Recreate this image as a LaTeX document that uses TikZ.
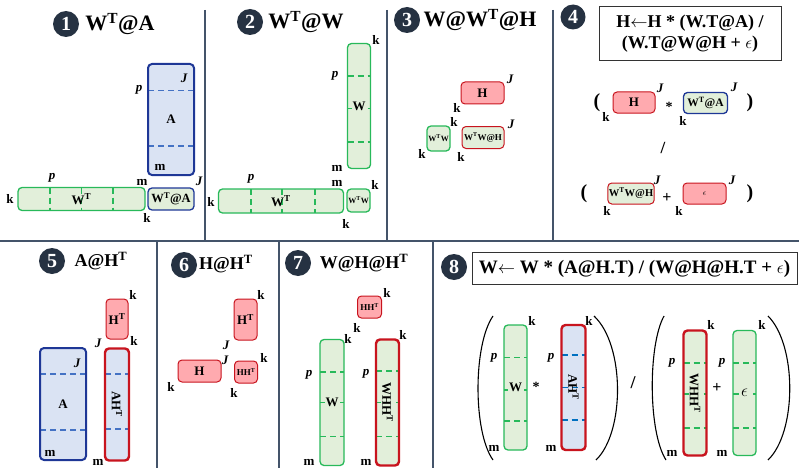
\documentclass[tikz,border=0pt]{standalone}
\usepackage{fontspec}
\setmainfont{Liberation Serif}
\usetikzlibrary{positioning, calc}
\definecolor{gfill}{RGB}{226, 239, 218}
\definecolor{gline}{RGB}{40, 185, 90}
\definecolor{bfill}{RGB}{218, 227, 243}
\definecolor{bline}{RGB}{30, 55, 150}
\definecolor{bdash}{RGB}{68, 114, 196}
\definecolor{adash}{RGB}{0, 112, 192}
\definecolor{rfill}{RGB}{255, 170, 175}
\definecolor{rline}{RGB}{200, 20, 30}
\definecolor{numc}{RGB}{38, 50, 66}
\definecolor{divc}{RGB}{68, 84, 106}
\setlength{\fboxsep}{1pt}

\begin{document}
\begin{tikzpicture}[
        x=1pt, y=-1pt,
        mat/.style={rectangle, rounded corners=4pt, inner sep=1pt, font=\fontsize{12}{12}\selectfont\bfseries},
        gmat/.style={mat, fill=gfill, draw=gline, line width=1.3pt},
        bmat/.style={mat, fill=bfill, draw=bline, line width=2pt},
        rmat/.style={mat, fill=rfill, draw=rline, line width=1pt},
        rgmat/.style={mat, fill=gfill, draw=rline, line width=2.4pt},
        rbmat/.style={mat, fill=bfill, draw=rline, line width=2.4pt},
        dashln/.style={line width=1.6pt, dash pattern=on 6pt off 4pt},
        hdash/.style 2 args={path picture={\foreach \f in {#2} \draw[#1, dashln] ($(path picture bounding box.north west)!\f!(path picture bounding box.south west)$) -- ($(path picture bounding box.north east)!\f!(path picture bounding box.south east)$);}},
        vdash/.style 2 args={path picture={\foreach \f in {#2} \draw[#1, dashln] ($(path picture bounding box.north west)!\f!(path picture bounding box.north east)$) -- ($(path picture bounding box.south west)!\f!(path picture bounding box.south east)$);}},
        dim/.style={inner sep=0pt, font=\fontsize{13}{13}\selectfont\bfseries},
        dimi/.style={inner sep=0pt, font=\fontsize{13}{13}\selectfont\bfseries\itshape},
        num/.style={circle, fill=numc, text=white, minimum size=26pt, inner sep=0pt, font=\fontsize{20}{20}\selectfont\bfseries},
        title/.style={inner sep=0pt, font=\fontsize{22}{22}\selectfont\bfseries},
        formula/.style={draw=black!80, line width=0.8pt, align=center, font=\fontsize{18}{21}\selectfont\bfseries},
        op/.style={inner sep=0pt, font=\fontsize{20}{20}\selectfont\bfseries},
        divider/.style={divc, line width=1.6pt},
        paren/.style={line width=1.1pt}
    ]
    \useasboundingbox (0,0) rectangle (799,468);

    % Dividers
    \draw[divider] (205,10) -- (205,241);
    \draw[divider] (387,10) -- (387,241);
    \draw[divider] (553,10) -- (553,241);
    \draw[divider] (0,241) -- (799,241);
    \draw[divider] (157,241) -- (157,468);
    \draw[divider] (279,241) -- (279,468);
    \draw[divider] (433,241) -- (433,468);

    % 1: W^T@A
    \node[num] (n1) at (66,24) {1};
    \node[title] (t1) at (120,24) {W\textsuperscript{T}@A};
    \node[bmat, minimum width=46pt, minimum height=111pt, hdash={bdash}{0.24,0.74}, font=\fontsize{13}{13}\selectfont\bfseries] (A1) at (171,119.5) {A};
    \node[dimi] (A1J) at (184,78) {J};
    \node[dimi] (A1p) at (139,90) {p};
    \node[dim] (A1m) at (160,167) {m};
    \node[gmat, minimum width=127pt, minimum height=23pt, vdash={gline}{0.25,0.5,0.75}, font=\fontsize{13}{13}\selectfont\bfseries] (WT1) at (81.5,199) {W\textsuperscript{T}};
    \node[dimi] (WT1p) at (52,178) {p};
    \node[dim] (WT1m) at (142,182) {m};
    \node[dim] (WT1k) at (10,199) {k};
    \node[gmat, draw=bline, minimum width=46pt, minimum height=22pt, font=\fontsize{12.5}{12.5}\selectfont\bfseries] (WA1) at (171,199) {W\textsuperscript{T}@A};
    \node[dimi] (WA1J) at (199,181) {J};
    \node[dim] (WA1k) at (147,218) {k};

    % 2: W^T@W
    \node[num] (n2) at (250,22) {2};
    \node[title] (t2) at (306,22) {W\textsuperscript{T}@W};
    \node[gmat, minimum width=23pt, minimum height=125pt, hdash={gline}{0.26,0.52,0.79}, font=\fontsize{13}{13}\selectfont\bfseries] (W2) at (359,106) {\colorbox{gfill}{W}};
    \node[dim] (W2k) at (376,40) {k};
    \node[dimi] (W2p) at (335,76) {p};
    \node[dim] (W2m) at (337,168) {m};
    \node[gmat, minimum width=125pt, minimum height=24pt, vdash={gline}{0.26,0.51,0.77}, font=\fontsize{13}{13}\selectfont\bfseries] (WT2) at (281,201) {W\textsuperscript{T}};
    \node[dimi] (WT2p) at (251,179) {p};
    \node[dim] (WT2m) at (337,183) {m};
    \node[dim] (WT2k) at (211,202) {k};
    \node[gmat, minimum width=23pt, minimum height=23pt, font=\fontsize{8}{8}\selectfont\bfseries] (WW2) at (358.5,200.5) {W\textsuperscript{T}W};
    \node[dim] (WW2k) at (375,185) {k};
    \node[dim] (WW2kb) at (346,224) {k};

    % 3: W@W^T@H
    \node[num] (n3) at (407,20) {3};
    \node[title] (t3) at (480,20) {W@W\textsuperscript{T}@H};
    \node[rmat, minimum width=43pt, minimum height=22pt, font=\fontsize{13}{13}\selectfont\bfseries] (H3) at (482.5,93) {H};
    \node[dimi] (H3J) at (510,79) {J};
    \node[dim] (H3k) at (457,108) {k};
    \node[gmat, minimum width=23pt, minimum height=25pt, font=\fontsize{8}{8}\selectfont\bfseries] (WW3) at (438.5,138.5) {W\textsuperscript{T}W};
    \node[dim] (WW3k) at (422,154) {k};
    \node[gmat, draw=rline, line width=1pt, minimum width=42pt, minimum height=22pt, font=\fontsize{9}{9}\selectfont\bfseries] (WWH3) at (483,137.5) {W\textsuperscript{T}W@H};
    \node[dim] (WWH3k) at (454,122) {k};
    \node[dimi] (WWH3J) at (511,124) {J};
    \node[dim] (WWH3kb) at (461,157) {k};

    % 4: update of H
    \node[num, minimum size=25pt] (n4) at (573,17) {4};
    \node[formula, minimum width=182pt, minimum height=54pt] (f4) at (690,33.5) {H$\leftarrow$H * (W.T@A) /\\(W.T@W@H + $\epsilon$)};
    \node[op] (lp4a) at (597,103) {(};
    \node[rmat, minimum width=42pt, minimum height=21pt, font=\fontsize{13}{13}\selectfont\bfseries] (H4) at (634,102.5) {H};
    \node[dimi] (H4J) at (660,88) {J};
    \node[dim] (H4k) at (606,117) {k};
    \node[op, font=\fontsize{14}{14}\selectfont\bfseries] (st4) at (669,107) {*};
    \node[gmat, draw=bline, minimum width=44pt, minimum height=21pt, font=\fontsize{11.5}{11.5}\selectfont\bfseries] (WA4) at (705.5,103) {W\textsuperscript{T}@A};
    \node[dimi] (WA4J) at (734,87) {J};
    \node[dim] (WA4k) at (683,121) {k};
    \node[op] (rp4a) at (750,103) {)};
    \node[op, font=\fontsize{17}{17}\selectfont\bfseries] (sl4) at (663,148) {/};
    \node[op] (lp4b) at (584,194) {(};
    \node[gmat, draw=rline, line width=1pt, minimum width=43pt, minimum height=21pt, font=\fontsize{10.5}{10.5}\selectfont\bfseries] (WWH4) at (631,193.5) {W\textsuperscript{T}W@H};
    \node[dimi] (WWH4J) at (657,180) {J};
    \node[dim] (WWH4k) at (607,211) {k};
    \node[op, font=\fontsize{16}{16}\selectfont\bfseries] (pl4) at (667,198) {+};
    \node[rmat, minimum width=43pt, minimum height=21pt, font=\fontsize{8}{8}\selectfont] (E4) at (704.5,193.5) {$\epsilon$};
    \node[dimi] (E4J) at (732,180) {J};
    \node[dim] (E4k) at (679,211) {k};
    \node[op] (rp4b) at (750,194) {)};

    % 5: A@H^T
    \node[num] (n5) at (52,261) {5};
    \node[title, font=\fontsize{18}{18}\selectfont\bfseries] (t5) at (101,261) {A@H\textsuperscript{T}};
    \node[rmat, minimum width=22pt, minimum height=40pt, font=\fontsize{13}{13}\selectfont\bfseries] (HT5) at (117,319) {H\textsuperscript{T}};
    \node[dim] (HT5k) at (133,295) {k};
    \node[dimi] (HT5J) at (98,343) {J};
    \node[bmat, minimum width=46pt, minimum height=112pt, hdash={bdash}{0.23,0.73}, font=\fontsize{13}{13}\selectfont\bfseries] (A5) at (63,404) {A};
    \node[dimi] (A5J) at (77,363) {J};
    \node[dim] (A5m) at (50,453) {m};
    \node[rbmat, minimum width=24pt, minimum height=112pt, hdash={bdash}{0.23,0.72}, font=\fontsize{13}{13}\selectfont\bfseries] (AH5) at (117,404.5) {\rotatebox{-90}{AH\textsuperscript{T}}};
    \node[dim] (AH5k) at (134,341) {k};
    \node[dim] (AH5m) at (98,462) {m};

    % 6: H@H^T
    \node[num] (n6) at (184,265) {6};
    \node[title, font=\fontsize{18}{18}\selectfont\bfseries] (t6) at (226,264) {H@H\textsuperscript{T}};
    \node[rmat, minimum width=23pt, minimum height=41pt, font=\fontsize{13}{13}\selectfont\bfseries] (HT6) at (245.5,319.5) {H\textsuperscript{T}};
    \node[dim] (HT6k) at (261,295) {k};
    \node[dimi] (HT6J) at (226,345) {J};
    \node[rmat, minimum width=43pt, minimum height=22pt, font=\fontsize{13}{13}\selectfont\bfseries] (H6) at (199.5,371) {H};
    \node[dimi] (H6J) at (225,360) {J};
    \node[dim] (H6k) at (171,387) {k};
    \node[rmat, minimum width=23pt, minimum height=22pt, font=\fontsize{9}{9}\selectfont\bfseries] (HH6) at (246,372) {HH\textsuperscript{T}};
    \node[dim] (HH6k) at (264,358) {k};
    \node[dim] (HH6kb) at (234,393) {k};

    % 7: W@H@H^T
    \node[num] (n7) at (298,263) {7};
    \node[title, font=\fontsize{18}{18}\selectfont\bfseries] (t7) at (364,263) {W@H@H\textsuperscript{T}};
    \node[rmat, minimum width=24pt, minimum height=22pt, font=\fontsize{9}{9}\selectfont\bfseries] (HH7) at (369.5,307) {HH\textsuperscript{T}};
    \node[dim] (HH7k) at (387,293) {k};
    \node[dim] (HH7kb) at (357,328) {k};
    \node[gmat, minimum width=24pt, minimum height=126pt, hdash={gline}{0.26,0.5,0.77}, font=\fontsize{13}{13}\selectfont\bfseries] (W7) at (332,402.5) {\colorbox{gfill}{W}};
    \node[dim] (W7k) at (348,339) {k};
    \node[dimi] (W7p) at (309,375) {p};
    \node[dim] (W7m) at (309,462) {m};
    \node[rgmat, minimum width=23pt, minimum height=126pt, hdash={gline}{0.25,0.5,0.77}, font=\fontsize{13}{13}\selectfont\bfseries] (WH7) at (387.5,402.5) {\rotatebox{-90}{\colorbox{gfill}{WHH\textsuperscript{T}}}};
    \node[dim] (WH7k) at (403,335) {k};
    \node[dimi] (WH7p) at (366,374) {p};
    \node[dim] (WH7m) at (366,462) {m};

    % 8: update of W
    \node[num] (n8) at (454,267) {8};
    \node[formula, minimum width=325pt, minimum height=32pt, font=\fontsize{19}{19}\selectfont\bfseries] (f8) at (634.5,268.5) {W$\leftarrow$ W * (A@H.T) / (W@H@H.T + $\epsilon$)};
    \draw[paren] (493,316) .. controls (473,345) and (473,432) .. (493,460);
    \draw[paren] (594,316) .. controls (625,345) and (625,432) .. (596,460);
    \draw[paren] (664,316) .. controls (648,345) and (648,432) .. (666,460);
    \draw[paren] (768,316) .. controls (797,345) and (797,432) .. (768,460);
    \node[gmat, minimum width=23pt, minimum height=125pt, hdash={gline}{0.26,0.52,0.77}, font=\fontsize{13}{13}\selectfont\bfseries] (W8) at (515.5,387.5) {\colorbox{gfill}{W}};
    \node[dim] (W8k) at (532,321) {k};
    \node[dimi] (W8p) at (494,358) {p};
    \node[dim] (W8m) at (494,448) {m};
    \node[op, font=\fontsize{14}{14}\selectfont\bfseries] (st8) at (536,387) {*};
    \node[rbmat, minimum width=24pt, minimum height=125pt, hdash={adash}{0.24,0.5,0.76}, font=\fontsize{13}{13}\selectfont\bfseries] (AH8) at (573.5,387.5) {\rotatebox{-90}{AH\textsuperscript{T}}};
    \node[dim] (AH8k) at (589,321) {k};
    \node[dimi] (AH8p) at (551,358) {p};
    \node[dim] (AH8m) at (551,448) {m};
    \node[op, font=\fontsize{18}{18}\selectfont\bfseries] (sl8) at (633,383) {/};
    \node[rgmat, minimum width=23pt, minimum height=125pt, hdash={gline}{0.26,0.51,0.78}, font=\fontsize{13}{13}\selectfont\bfseries] (WH8) at (695,393) {\rotatebox{-90}{\colorbox{gfill}{WHH\textsuperscript{T}}}};
    \node[dim] (WH8k) at (711,325) {k};
    \node[dimi] (WH8p) at (672,363) {p};
    \node[dim] (WH8m) at (672,453) {m};
    \node[op, font=\fontsize{16}{16}\selectfont\bfseries] (pl8) at (717,388) {+};
    \node[gmat, minimum width=23pt, minimum height=125pt, hdash={gline}{0.26,0.51,0.78}, font=\fontsize{16}{16}\selectfont] (E8) at (744.5,393) {\colorbox{gfill}{$\epsilon$}};
    \node[dim] (E8k) at (762,325) {k};
    \node[dimi] (E8p) at (722,363) {p};
    \node[dim] (E8m) at (722,453) {m};
\end{tikzpicture}
\end{document}
